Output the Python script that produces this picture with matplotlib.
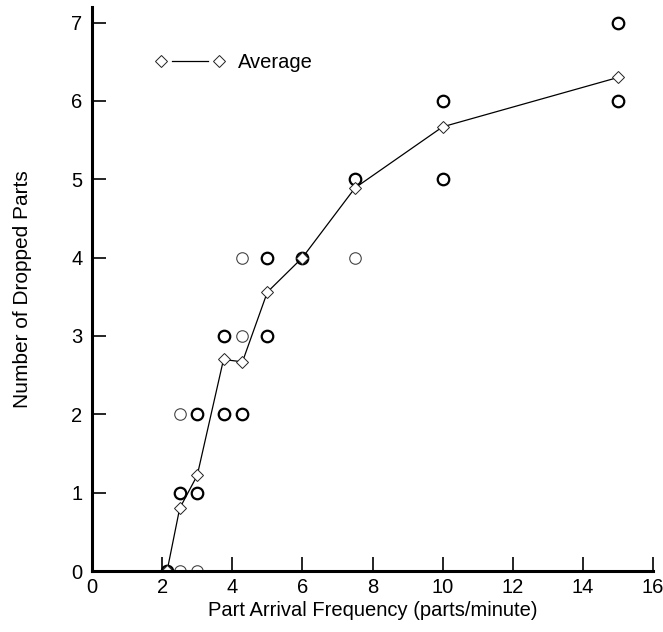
import numpy as np
import matplotlib
matplotlib.use("Agg")
import matplotlib.pyplot as plt
from matplotlib.legend_handler import HandlerLine2D
from matplotlib.lines import Line2D

plt.rcParams['font.family'] = ['Liberation Sans', 'DejaVu Sans']

# arrival frequency (parts/minute) for each test setting
freq = [2.14, 2.5, 3.0, 3.75, 4.29, 5.0, 6.0, 7.5, 10.0, 15.0]
avg_dropped = [0.0, 0.8, 1.22, 2.7, 2.67, 3.56, 4.0, 4.89, 5.67, 6.3]

# individual runs: (frequency, dropped parts, number of runs with that result)
run_freq  = [2.14, 2.5, 2.5, 2.5, 3.0, 3.0, 3.0, 3.75, 3.75, 4.29, 4.29, 4.29,
             5.0, 5.0, 6.0, 7.5, 7.5, 10.0, 10.0, 15.0, 15.0]
run_drop  = [0, 0, 1, 2, 0, 1, 2, 2, 3, 2, 3, 4,
             3, 4, 4, 4, 5, 5, 6, 6, 7]
run_count = [10, 1, 6, 1, 1, 5, 3, 3, 7, 4, 1, 1,
             4, 5, 9, 1, 8, 3, 6, 7, 3]


class GapLine(HandlerLine2D):
    # legend entry: marker - line - marker, line not touching the markers
    def create_artists(self, legend, orig_handle, xdescent, ydescent,
                       width, height, fontsize, trans):
        arts = super().create_artists(legend, orig_handle, xdescent, ydescent,
                                      width, height, fontsize, trans)
        line = arts[0]
        x = np.asarray(line.get_xdata())
        y = np.asarray(line.get_ydata())
        marks = Line2D([x[0], x[-1]], [y[0], y[0]], linestyle='None', marker='D',
                       ms=orig_handle.get_markersize(),
                       mfc='white', mec=orig_handle.get_markeredgecolor(),
                       mew=orig_handle.get_markeredgewidth())
        marks.set_transform(trans)
        gap = 0.19 * (x[-1] - x[0])
        line.set_data([x[0] + gap, x[-1] - gap], [y[0], y[0]])
        line.set_marker('None')
        return [line, marks]


fig = plt.figure(figsize=(6.63, 6.32), dpi=100)
ax = fig.add_axes([0.1388, 0.0965, 0.8462, 0.8925])

rf = np.array(run_freq)
rd = np.array(run_drop)
rc = np.array(run_count)
single = rc == 1
ax.plot(rf[single], rd[single], 'o', ms=8.3, mfc='none', mec='#444444', mew=0.8)
ax.plot(rf[~single], rd[~single], 'o', ms=8.3, mfc='none', mec='black', mew=1.6)

avg_line, = ax.plot(freq, avg_dropped, '-', color='black', lw=0.9, marker='D', ms=6,
                    mfc='white', mec='#222222', mew=0.7, label='Average')

ax.set_xlim(0, 16)
ax.set_ylim(0, 7.2)
ax.set_xticks(range(0, 17, 2))
ax.set_yticks(range(0, 8))

for s in ['top', 'right']:
    ax.spines[s].set_visible(False)
for s in ['left', 'bottom']:
    ax.spines[s].set_linewidth(2.2)

ax.tick_params(direction='in', length=10, width=1.2, labelsize=14.5, pad=5)
ax.tick_params(axis='y', pad=7)

ax.set_xlabel("Part Arrival Frequency (parts/minute)", fontsize=14.5, labelpad=3)
ax.set_ylabel("Number of Dropped Parts", fontsize=15, labelpad=28)

ax.legend(loc='upper left', bbox_to_anchor=(0.08, 0.95), frameon=False,
          numpoints=2, handlelength=3.5, fontsize=14.5, handletextpad=0.6,
          handler_map={avg_line: GapLine()})

fig.savefig("out.png", dpi=100)
